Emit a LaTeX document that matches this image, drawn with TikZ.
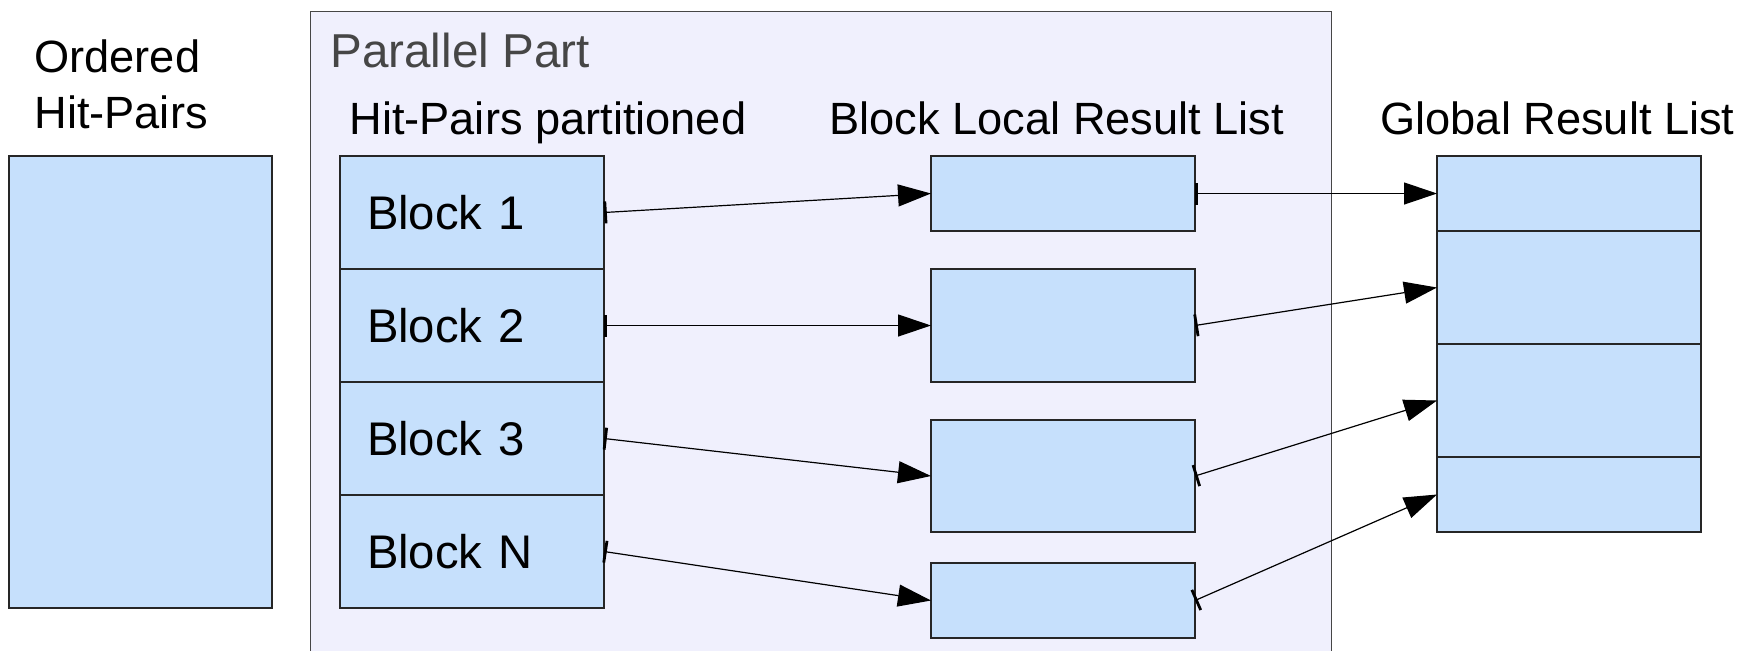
\documentclass[tikz,border=0pt]{standalone}
\usepackage{fontspec}
\setmainfont{Liberation Sans}
\usetikzlibrary{arrows.meta, positioning}
\definecolor{cellblue}{RGB}{198,224,252}
\definecolor{partbg}{RGB}{240,240,253}
\definecolor{partline}{RGB}{70,70,70}

\tikzset{
  cell/.style={draw=black!85, fill=cellblue, line width=0.6pt, outer sep=0pt, inner sep=0pt, minimum width=132pt},
  blockcell/.style={cell, minimum height=56.5pt, text width=105pt, inner xsep=13.5pt, align=left, font=\fontsize{23.6}{28}\selectfont},
  head/.style={font=\fontsize{22.6}{26}\selectfont, inner sep=0pt, anchor=base west},
  link/.style={{Bar[width=11pt,line width=1.4pt]}-{Triangle[length=16.5pt,width=11pt]}, line width=0.6pt}
}

\begin{document}
\begin{tikzpicture}[x=0.5pt, y=-0.5pt]
\useasboundingbox (0,0) rectangle (1756,650);
\fill[white] (0,0) rectangle (1756,650);

\node[draw=partline, fill=partbg, line width=0.6pt, inner sep=0pt, anchor=north west, minimum width=510.5pt, minimum height=324.5pt] (part) at (310,11) {};

\node[head] (ordlbl) at (34,72) {Ordered};
\node[head] (hplbl) at (34,128) {Hit-Pairs};
\node[head, text=partline, font=\fontsize{23.8}{28}\selectfont] (partlbl) at (330,67) {Parallel Part};
\node[head] (blklbl) at (349,134) {Hit-Pairs partitioned};
\node[head] (loclbl) at (829,134) {Block Local Result List};
\node[head] (glblbl) at (1380,134) {Global Result List};

\node[cell, anchor=north west, minimum width=131.5pt, minimum height=226pt] (ordered) at (9,156) {};

\node[blockcell, anchor=north west] (b1) at (340,156) {Block 1};
\node[blockcell, below=0pt of b1] (b2) {Block 2};
\node[blockcell, below=0pt of b2] (b3) {Block 3};
\node[blockcell, below=0pt of b3] (bn) {Block N};

\node[cell, anchor=north west, minimum height=37.5pt] (l1) at (931,156) {};
\node[cell, anchor=north west, minimum height=56.5pt] (l2) at (931,269) {};
\node[cell, anchor=north west, minimum height=56pt] (l3) at (931,420) {};
\node[cell, anchor=north west, minimum height=37.5pt] (l4) at (931,563) {};

\node[cell, anchor=north west, minimum height=37.5pt] (g1) at (1437,156) {};
\node[cell, below=0pt of g1, minimum height=56.5pt] (g2) {};
\node[cell, below=0pt of g2, minimum height=56.5pt] (g3) {};
\node[cell, below=0pt of g3, minimum height=37.5pt] (g4) {};

\draw[link] (b1.east) -- (l1.west);
\draw[link] (b2.east) -- (l2.west);
\draw[link] (b3.east) -- (l3.west);
\draw[link] (bn.east) -- (l4.west);

\draw[link] (l1.east) -- (g1.west);
\draw[link] (l2.east) -- (g2.west);
\draw[link] (l3.east) -- (g3.west);
\draw[link] (l4.east) -- (g4.west);
\end{tikzpicture}
\end{document}
